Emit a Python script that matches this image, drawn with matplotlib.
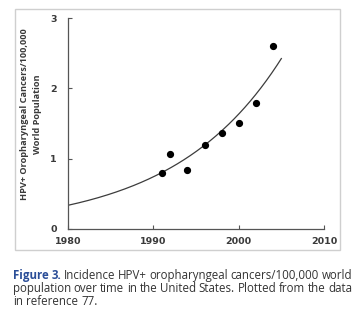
import numpy as np
import matplotlib
matplotlib.use("Agg")
import matplotlib.pyplot as plt
from matplotlib.patches import Rectangle

# Incidence of HPV+ oropharyngeal cancers per 100,000 (United States)
years = [1991, 1992, 1994, 1996, 1998, 2000, 2002, 2004]
incidence = [0.80, 1.07, 0.84, 1.20, 1.36, 1.51, 1.79, 2.60]
x_ticks = [1980, 1990, 2000, 2010]
y_ticks = [0, 1, 2, 3]

W, H = 361, 325
fig = plt.figure(figsize=(W / 100, H / 100), dpi=100)
fig.patch.set_facecolor("white")

def fx(px):
    return px / W

def fy(py):
    return 1 - py / H

# light frame round the chart
fig.add_artist(Rectangle((fx(15), fy(250)), fx(340) - fx(15), fy(9) - fy(250),
                         transform=fig.transFigure, fill=False,
                         edgecolor="#cfcfcf", lw=1.0))

ax = fig.add_axes([fx(68), fy(229), fx(324) - fx(68), fy(18) - fy(229)])
axis_col = "#555555"
text_col = "#3a3a3a"

# exponential trend fitted to the points
b, ln_a = np.polyfit(np.array(years) - 1980, np.log(incidence), 1)
t = np.linspace(1980, 2005, 200)
ax.plot(t, np.exp(ln_a) * np.exp(b * (t - 1980)), color="#3c3c3c", lw=0.9)
ax.plot(years, incidence, "o", color="black", ms=4.2, mec="black")

ax.set_xlim(1980, 2010)
ax.set_ylim(0, 3)
ax.set_xticks(x_ticks)
ax.set_yticks(y_ticks)
for s in ["top", "right"]:
    ax.spines[s].set_visible(False)
for s in ["left", "bottom"]:
    ax.spines[s].set_color(axis_col)
    ax.spines[s].set_linewidth(0.9)
ax.tick_params(direction="in", length=3, width=0.8, color=axis_col,
               labelcolor=text_col, labelsize=6.8, pad=6)
for lab in ax.get_xticklabels() + ax.get_yticklabels():
    lab.set_fontweight("bold")
    lab.set_family("DejaVu Sans")
ax.tick_params(axis="y", pad=8)

fig.text(fx(25), fy(114), "HPV+ Oropharyngeal Cancers/100,000", rotation=90,
         ha="center", va="center", fontsize=6.6, fontweight="bold",
         color=text_col, family="Open Sans")
fig.text(fx(38), fy(114), "World Population", rotation=90,
         ha="center", va="center", fontsize=6.6, fontweight="bold",
         color=text_col, family="Open Sans")

# justified caption below the chart
cap_font = dict(family="Open Sans", fontsize=8.3, color="#333333")
blue = "#2b4e98"
lines = [
    [("Figure", True), ("3.", True), ("Incidence", False), ("HPV+", False),
     ("oropharyngeal", False), ("cancers/100,000", False), ("world", False)],
    [("population", False), ("over", False), ("time", False), ("in", False),
     ("the", False), ("United", False), ("States.", False), ("Plotted", False),
     ("from", False), ("the", False), ("data", False)],
    [("in", False), ("reference", False), ("77.", False)],
]
line_y = [279, 292, 305]
left_px, right_px = 13, 352
renderer = fig.canvas.get_renderer()
for i, (words, ypx) in enumerate(zip(lines, line_y)):
    arts = []
    for w, is_fig in words:
        a = fig.text(0, fy(ypx), w, ha="left", va="baseline",
                     fontweight="bold" if is_fig else "normal",
                     **dict(cap_font, color=blue if is_fig else cap_font["color"]))
        arts.append(a)
    widths = [a.get_window_extent(renderer).width for a in arts]
    space = renderer.points_to_pixels(cap_font["fontsize"]) * 0.26
    if i < len(lines) - 1:
        gap = (right_px - left_px - sum(widths)) / (len(arts) - 1)
    else:
        gap = space
    x = left_px
    for a, w in zip(arts, widths):
        a.set_x(fx(x))
        x += w + gap

fig.savefig("out.png", dpi=100, facecolor="white")
